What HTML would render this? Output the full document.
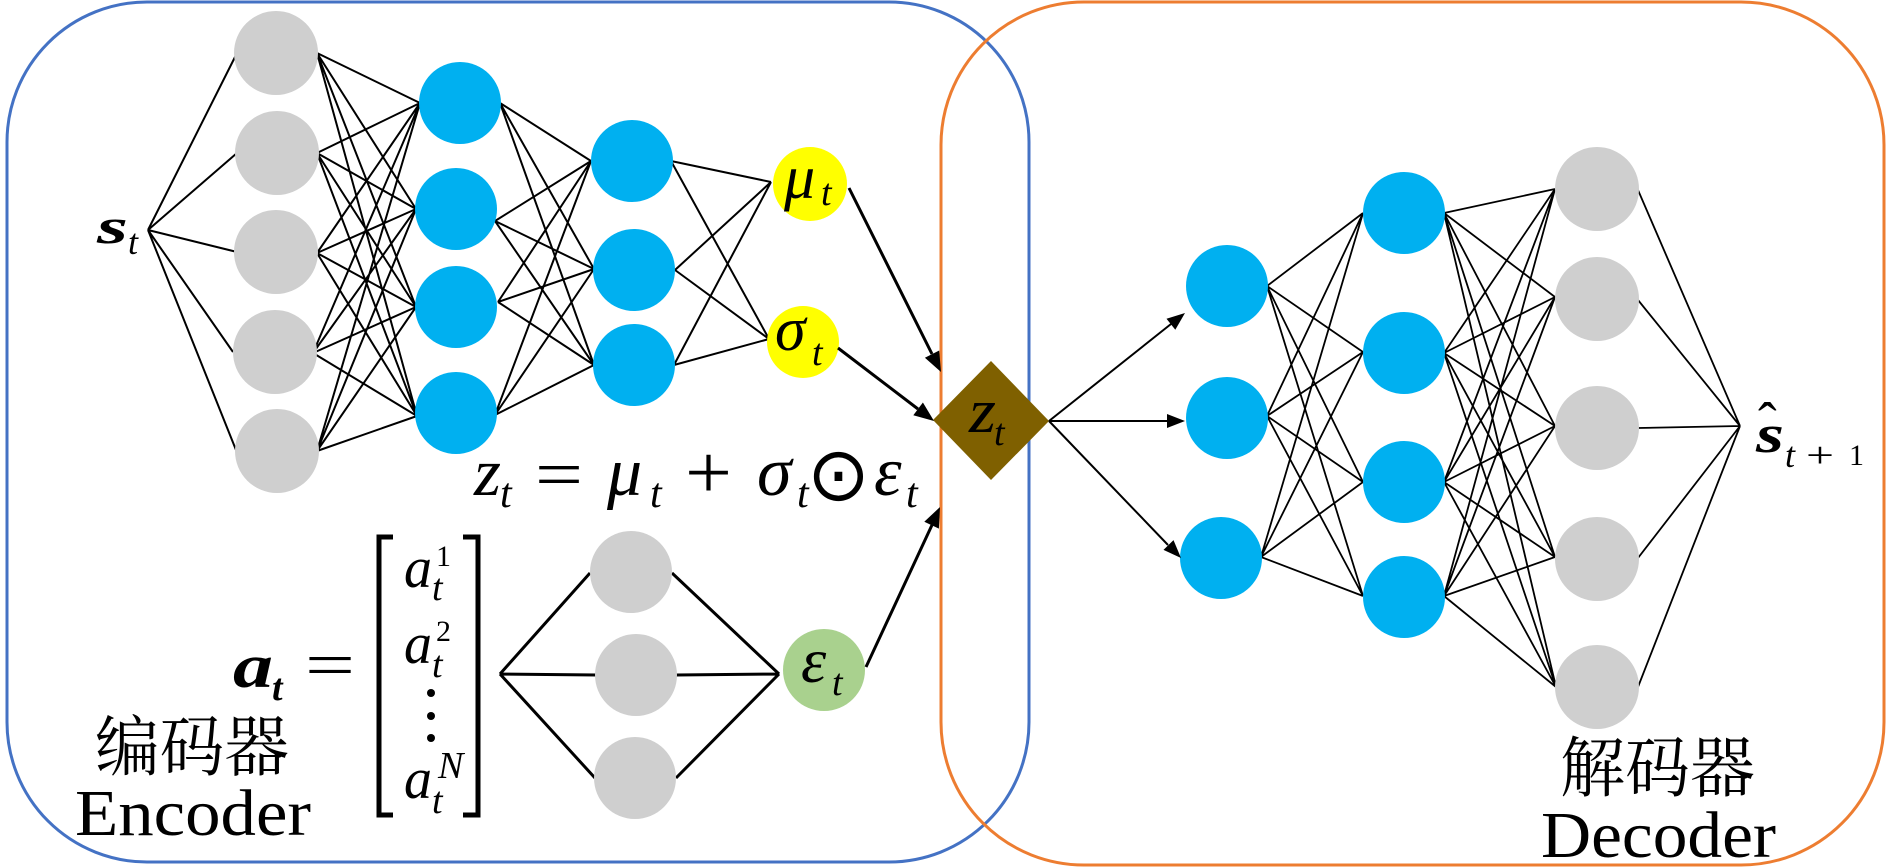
<!DOCTYPE html>
<html><head><meta charset="utf-8"><style>
html,body{margin:0;padding:0;background:#fff;}
svg{display:block;}
text{font-family:"Liberation Serif","Noto Serif CJK SC",serif;fill:#000;}
.i{font-style:italic;font-weight:normal;}
.b{font-weight:bold;font-style:italic;}
</style></head><body>
<svg width="1890" height="868" viewBox="0 0 1890 868" xmlns="http://www.w3.org/2000/svg">
<rect x="0" y="0" width="1890" height="868" fill="#fff"/>
<!-- borders -->
<rect x="7" y="2" width="1022" height="860" rx="140" ry="140" fill="none" stroke="#4472C4" stroke-width="3"/>
<rect x="941" y="2" width="943" height="863" rx="143" ry="143" fill="none" stroke="#ED7D31" stroke-width="3"/>

<!-- encoder connections -->
<g stroke="#000" stroke-width="2" fill="none">
<path d="M148,230L237,53M148,230L237,153M148,230L237,252M148,230L233,352M148,230L236,450"/>
<path d="M317,53L420,103M317,53L416,209M317,53L416,307M317,53L417,416
M317,153L420,103M317,153L416,209M317,153L416,307M317,153L417,416
M317,253L420,103M317,253L416,209M317,253L416,307M317,253L417,416
M313,353L420,103M313,353L416,209M313,353L416,307M313,353L417,416
M317,451L420,103M317,451L416,209M317,451L416,307M317,451L417,416"/>
<path d="M500,103L591,161M500,103L594,269M500,103L594,365
M495,221L591,161M495,221L594,269M495,221L594,365
M498,302L591,161M498,302L594,269M498,302L594,365
M495,415L591,161M495,415L594,269M495,415L594,365"/>
<path d="M671,161L771,182M671,161L769,339M675,270L771,182M675,270L769,339M674,365L771,182M674,365L769,339"/>
</g>
<!-- action net -->
<g stroke="#000" stroke-width="3" fill="none">
<path d="M500,674L590,573M500,674L597,675M500,674L595,778M672,573L779,674M676,675L779,674M676,778L779,674"/>
</g>
<!-- decoder connections -->
<g stroke="#000" stroke-width="1.8" fill="none">
<path d="M1267,286L1363,213M1267,286L1363,352M1267,286L1363,482M1267,286L1363,596
M1267,416L1363,213M1267,416L1363,352M1267,416L1363,482M1267,416L1363,596
M1261,557L1363,213M1261,557L1363,352M1261,557L1363,482M1261,557L1363,596"/>
<path d="M1444,213L1555,189M1444,213L1555,297M1444,213L1555,426M1444,213L1555,557M1444,213L1556,687
M1444,353L1555,189M1444,353L1555,297M1444,353L1555,426M1444,353L1555,557M1444,353L1556,687
M1444,482L1555,189M1444,482L1555,297M1444,482L1555,426M1444,482L1555,557M1444,482L1556,687
M1444,596L1555,189M1444,596L1555,297M1444,596L1555,426M1444,596L1555,557M1444,596L1556,687"/>
<path d="M1638,190L1740,426M1638,300L1740,426M1638,428L1740,426M1638,558L1740,426M1638,687L1740,426"/>
</g>

<!-- nodes -->
<g fill="#CFCFCF">
<circle cx="276" cy="53" r="42"/><circle cx="277" cy="153" r="42"/><circle cx="276" cy="252" r="42"/><circle cx="275" cy="352" r="42"/><circle cx="277" cy="451" r="42"/>
<circle cx="631" cy="572" r="41"/><circle cx="636" cy="675" r="41"/><circle cx="635" cy="778" r="41"/>
<circle cx="1597" cy="189" r="42"/><circle cx="1597" cy="299" r="42"/><circle cx="1597" cy="428" r="42"/><circle cx="1597" cy="559" r="42"/><circle cx="1597" cy="687" r="42"/>
</g>
<g fill="#00B0F0">
<circle cx="460" cy="103" r="41"/><circle cx="456" cy="209" r="41"/><circle cx="456" cy="307" r="41"/><circle cx="456" cy="413" r="41"/>
<circle cx="632" cy="161" r="41"/><circle cx="634" cy="270" r="41"/><circle cx="634" cy="365" r="41"/>
<circle cx="1227" cy="286" r="41"/><circle cx="1227" cy="418" r="41"/><circle cx="1221" cy="558" r="41"/>
<circle cx="1404" cy="213" r="41"/><circle cx="1404" cy="353" r="41"/><circle cx="1404" cy="482" r="41"/><circle cx="1404" cy="597" r="41"/>
</g>
<circle cx="810" cy="184" r="37" fill="#FFFF00"/>
<circle cx="803" cy="342" r="36" fill="#FFFF00"/>
<circle cx="824" cy="670" r="41" fill="#A9D18E"/>
<polygon points="933,420 991,361 1049,421 991,480" fill="#7F6000"/>

<!-- arrows -->
<g stroke="#000" stroke-width="3" fill="none">
<path d="M849,188L932,354M838,348L918,409M866,667L932,525"/>
</g>
<g stroke="#000" stroke-width="2" fill="none">
<path d="M1049,421L1171,324M1049,421L1167,421M1049,421L1168,545"/>
</g>
<g fill="#000">
<polygon points="941,372 924.9,357.7 939.2,350.5"/>
<polygon points="934,421 913.3,415.3 922.9,402.5"/>
<polygon points="940,507 938.9,528.6 924.3,521.8"/>
<polygon points="1185,313 1175.3,329.7 1166.5,318.7"/>
<polygon points="1185,421 1167,428 1167,414"/>
<polygon points="1181,558 1163.5,549.9 1173.5,540.1"/>
</g>

<!-- brackets and dots -->
<g stroke="#000" stroke-width="5" fill="none">
<path d="M393,537H379V815H393"/>
<path d="M463,537H478V815H463"/>
</g>
<circle cx="431" cy="693" r="4"/><circle cx="431" cy="716" r="4"/><circle cx="431" cy="738" r="4"/>

<!-- labels -->
<text class="b" x="97" y="243" font-size="50" textLength="31" lengthAdjust="spacingAndGlyphs">s</text>
<text class="i" x="128" y="254" font-size="36">t</text>

<text class="i" x="474" y="495" font-size="68" textLength="27" lengthAdjust="spacingAndGlyphs">z</text>
<text class="i" x="500" y="507" font-size="42">t</text>
<text x="535" y="497" font-size="68" textLength="48" lengthAdjust="spacingAndGlyphs">=</text>
<text class="i" x="607" y="495" font-size="70">μ</text>
<text class="i" x="650" y="507" font-size="42">t</text>
<text x="685" y="498" font-size="76" textLength="47" lengthAdjust="spacingAndGlyphs">+</text>
<text class="i" x="757" y="495" font-size="70">σ</text>
<text class="i" x="797" y="507" font-size="42">t</text>
<text x="807" y="500" font-size="75" style="font-family:'DejaVu Sans',sans-serif">⊙</text>
<text class="i" x="874" y="495" font-size="70">ε</text>
<text class="i" x="906" y="507" font-size="42">t</text>

<text class="i" x="784" y="198" font-size="62">μ</text>
<text class="i" x="821" y="205" font-size="38">t</text>
<text class="i" x="775" y="350" font-size="62">σ</text>
<text class="i" x="812" y="365" font-size="38">t</text>
<text class="i" x="969" y="432" font-size="62" textLength="27" lengthAdjust="spacingAndGlyphs">z</text>
<text class="i" x="994" y="445" font-size="38">t</text>
<text class="i" x="801" y="682" font-size="64">ε</text>
<text class="i" x="832" y="695" font-size="38">t</text>

<text class="b" x="233" y="687" font-size="62" textLength="40" lengthAdjust="spacingAndGlyphs">a</text>
<text class="b" x="272" y="700" font-size="38">t</text>
<text x="305" y="686" font-size="64" textLength="50" lengthAdjust="spacingAndGlyphs">=</text>

<text class="i" x="404" y="587" font-size="58" textLength="28" lengthAdjust="spacingAndGlyphs">a</text>
<text x="436" y="566" font-size="30">1</text>
<text class="i" x="432" y="600" font-size="38">t</text>
<text class="i" x="404" y="663" font-size="58" textLength="28" lengthAdjust="spacingAndGlyphs">a</text>
<text x="436" y="641" font-size="30">2</text>
<text class="i" x="432" y="677" font-size="38">t</text>
<text class="i" x="404" y="798" font-size="58" textLength="28" lengthAdjust="spacingAndGlyphs">a</text>
<text class="i" x="438" y="778" font-size="38">N</text>
<text class="i" x="432" y="813" font-size="38">t</text>

<text x="95" y="770" font-size="66" textLength="194" lengthAdjust="spacingAndGlyphs">编码器</text>
<text x="75" y="835" font-size="66" textLength="236" lengthAdjust="spacingAndGlyphs">Encoder</text>
<text x="1560" y="791" font-size="66" textLength="195" lengthAdjust="spacingAndGlyphs">解码器</text>
<text x="1541" y="857" font-size="66" textLength="235" lengthAdjust="spacingAndGlyphs">Decoder</text>

<text class="b" x="1756" y="452" font-size="54" textLength="28" lengthAdjust="spacingAndGlyphs">s</text>
<text x="1758" y="441" font-size="56">ˆ</text>
<text class="i" x="1785" y="467" font-size="36">t</text>
<text x="1806" y="467" font-size="36" textLength="28" lengthAdjust="spacingAndGlyphs">+</text>
<text x="1849" y="465" font-size="30">1</text>
</svg>
</body></html>
